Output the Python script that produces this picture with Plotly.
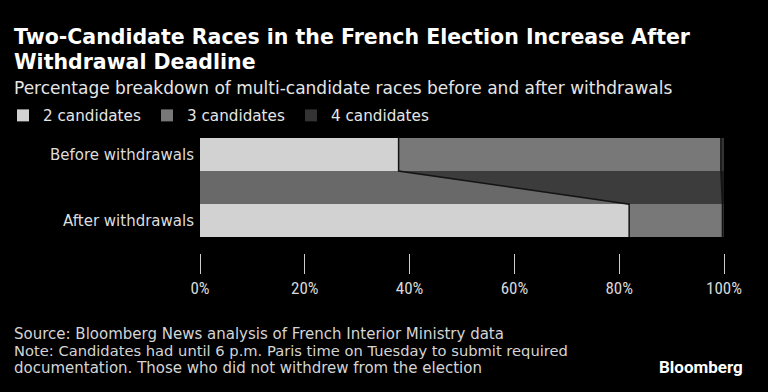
import plotly.graph_objects as go

rows = ["After withdrawals", "Before withdrawals"]   # bottom to top
row_y = [0, 1]
series = ["2 candidates", "3 candidates", "4 candidates"]
before = [37.9, 61.5, 0.6]
after = [81.9, 17.8, 0.3]
colors = ["#d2d2d2", "#787878", "#333333"]
conn_colors = ["rgba(210,210,210,0.5)", "rgba(120,120,120,0.5)", "rgba(51,51,51,0.5)"]
x_ticks = [0, 20, 40, 60, 80, 100]
x_ticktext = ["0%", "20%", "40%", "60%", "80%", "100%"]

SANS = "DejaVu Sans, sans-serif"
COND = "Roboto Condensed, Roboto, sans-serif"
BAR_W = 0.5

fig = go.Figure()

# connectors between the two bars
cb, ca = 0.0, 0.0
bounds = []
for i, name in enumerate(series):
    b0, b1 = cb, cb + before[i]
    a0, a1 = ca, ca + after[i]
    yt, yb = row_y[1] - BAR_W / 2, row_y[0] + BAR_W / 2
    fig.add_trace(go.Scatter(
        x=[b0, b1, a1, a0, b0], y=[yt, yt, yb, yb, yt],
        fill="toself", fillcolor=conn_colors[i], mode="lines", line=dict(width=0),
        showlegend=False, hoverinfo="skip"))
    cb, ca = b1, a1
    if i < len(series) - 1:
        bounds.append((b1, a1))

# stacked bars
for i, name in enumerate(series):
    fig.add_trace(go.Bar(
        y=row_y, x=[after[i], before[i]], orientation="h", name=name,
        marker=dict(color=colors[i], line=dict(width=0)), width=BAR_W))

# dark separator lines between segments
for b, a in bounds:
    fig.add_trace(go.Scatter(
        x=[b, b, a, a],
        y=[row_y[1] + BAR_W / 2, row_y[1] - BAR_W / 2, row_y[0] + BAR_W / 2, row_y[0] - BAR_W / 2],
        mode="lines", line=dict(color="#141414", width=1.5),
        showlegend=False, hoverinfo="skip"))

W, H = 768, 392
L, R, T, B = 200, 44, 138, 139
PW, PH = W - L - R, H - T - B


def px(x):
    return (x - L) / PW


def py(y):
    return (H - B - y) / PH


texts = [
    ("<b>Two-Candidate Races in the French Election Increase After</b>", 12, 36.5, 20.5, "#ffffff", SANS, "left"),
    ("<b>Withdrawal Deadline</b>", 12, 61.5, 20.5, "#ffffff", SANS, "left"),
    ("Percentage breakdown of multi-candidate races before and after withdrawals", 12, 88, 17, "#e6e6e6", SANS, "left"),
    ("Source: Bloomberg News analysis of French Interior Ministry data", 12, 333.5, 15, "#d4d4d4", SANS, "left"),
    ("Note: Candidates had until 6 p.m. Paris time on Tuesday to submit required", 12, 350.5, 14.7, "#d4d4d4", SANS, "left"),
    ("documentation. Those who did not withdrew from the election", 12, 367.5, 15, "#d4d4d4", SANS, "left"),
    ("<b>Bloomberg</b>", 745, 367, 17, "#ffffff", "Roboto, sans-serif", "right"),
]
ann_list = []
for t, x, y, s, c, f, anc in texts:
    ann_list.append(dict(text=t, x=px(x), y=py(y), xref="paper", yref="paper",
                         xanchor=anc, yanchor="middle", showarrow=False,
                         font=dict(family=f, size=s, color=c)))

fig.update_layout(
    width=W, height=H,
    barmode="stack",
    paper_bgcolor="#000000", plot_bgcolor="#000000",
    margin=dict(l=L, r=R, t=T, b=B, autoexpand=False),
    font=dict(family=SANS, color="#dddddd"),
    showlegend=True,
    legend=dict(orientation="h", xref="container", yref="container",
                x=3 / W, y=(H - 115.5) / H, xanchor="left", yanchor="middle",
                entrywidth=99, entrywidthmode="pixels",
                font=dict(family=SANS, size=15.2, color="#e6e6e6"), bgcolor="rgba(0,0,0,0)",
                traceorder="normal"),
    annotations=ann_list,
    xaxis=dict(range=[0, 100], tickvals=x_ticks, ticktext=x_ticktext, showgrid=False, zeroline=False,
               showline=False, ticks="outside", ticklen=20, tickcolor="#cccccc", tickwidth=1,
               tickfont=dict(family=COND, size=17, color="#d8d8d8"), fixedrange=True),
    yaxis=dict(range=[-0.487, 1.25], tickvals=row_y, ticktext=rows, showgrid=False, zeroline=False,
               showline=False, ticks="", ticklabelstandoff=5,
               tickfont=dict(family=SANS, size=15, color="#dddddd"), fixedrange=True),
)

fig.write_html("out.html", config={"displayModeBar": False},
               post_script="document.body.style.margin='0';")
